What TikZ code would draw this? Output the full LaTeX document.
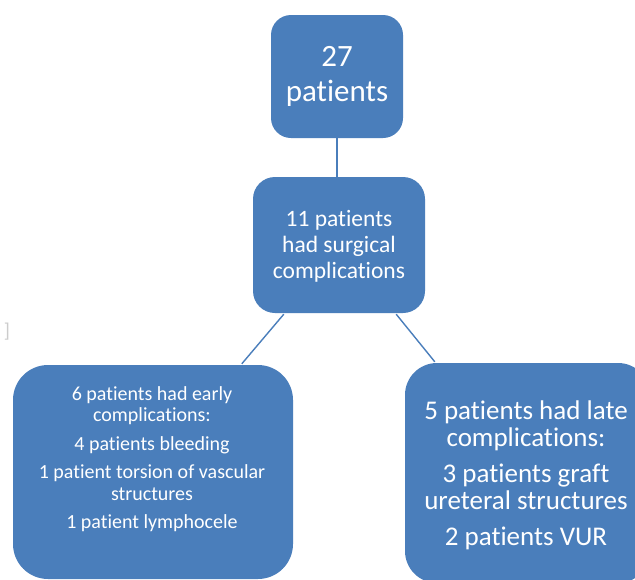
\documentclass[tikz,border=0pt]{standalone}
\usepackage{fontspec}
\setmainfont[Ligatures={NoCommon,NoRare,NoContextual}]{Carlito}
\usetikzlibrary{calc}
\definecolor{boxblue}{HTML}{4A7EBB}
\definecolor{lineblue}{HTML}{4A7EBB}
\begin{document}
\begin{tikzpicture}[x=1pt,y=-1pt,
  box/.style={fill=boxblue, draw=none, inner sep=0pt},
  txt/.style={text=white, align=center, inner sep=0pt},
  conn/.style={draw=lineblue, line width=1.4pt}]
\useasboundingbox (0,0) rectangle (635,579);
\fill[white] (0,0) rectangle (635,579);
% boxes
\node[box, rounded corners=20pt, minimum width=132pt, minimum height=123pt] (top) at (337,76.5) {};
\node[box, rounded corners=22pt, minimum width=172pt, minimum height=136pt] (mid) at (339,245) {};
\node[box, rounded corners=35pt, minimum width=280pt, minimum height=214pt] (lb) at (153,472) {};
\node[box, rounded corners=32pt, minimum width=245pt, minimum height=220pt] (rb) at (527.5,473) {};
% texts
\node[txt, font=\fontsize{31}{35}\selectfont] (ttop) at (337,76) {27\\pat{}ients};
\node[txt, font=\fontsize{23.5}{26}\selectfont] (tmid) at (339,246) {11 pat{}ients\\had surgical\\complicat{}ions};
\node[txt, font=\fontsize{20}{21.5}\selectfont] (tlb) at (152,459) {6 pat{}ients had early\\complicat{}ions:\\[7pt]4 pat{}ients bleeding\\[7pt]1 pat{}ient torsion of vascular\\structures\\[7pt]1 pat{}ient lymphocele};
\node[txt, font=\fontsize{27}{27}\selectfont] (trb) at (526,475) {5 pat{}ients had late\\complicat{}ions:\\[9pt]3 pat{}ients graft\\ureteral structures\\[9pt]2 pat{}ients VUR};
% stray bracket
\node[text=black!20, font=\fontsize{20}{20}\selectfont, inner sep=0pt] (br) at (7,332) {]};
% connectors
\draw[conn] (top.south) -- (top.south |- mid.north);
\draw[conn] ($(mid.south west)+(31,1)$) -- ($(lb.north west)+(229,-1)$);
\draw[conn] ($(mid.south east)+(-29,1)$) -- ($(rb.north west)+(30,-1)$);
\end{tikzpicture}
\end{document}
